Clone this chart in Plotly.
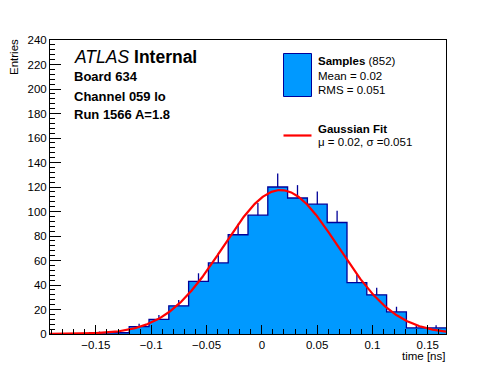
import numpy as np
import plotly.graph_objects as go

# ---- data ----
x_min = -0.1915
x_max = 0.1665
n_bins = 20
counts = [0, 0, 1, 1, 6, 12, 23, 43, 58, 81, 97, 120, 111, 106, 91, 42, 32, 18, 5, 5]
fit_mu = 0.017
fit_sigma = 0.052
fit_amp = 117.5
y_ticks = list(range(0, 241, 20))
x_ticks = [-0.15, -0.1, -0.05, 0, 0.05, 0.1, 0.15]
x_tick_text = ["\u22120.15", "\u22120.1", "\u22120.05", "0", "0.05", "0.1", "0.15"]

FONT = "Liberation Sans, Arial, Helvetica, sans-serif"
FILL = "#0099ff"
EDGE = "#000099"

edges = np.linspace(x_min, x_max, n_bins + 1)
centers = (edges[:-1] + edges[1:]) / 2
cnt = np.array(counts, dtype=float)

fig = go.Figure()
# histogram body + outline
fig.add_trace(go.Scatter(
    x=list(edges), y=list(cnt) + [cnt[-1]],
    mode="lines", line=dict(shape="hv", color=EDGE, width=1.3),
    fill="tozeroy", fillcolor=FILL, hoverinfo="skip", showlegend=False))
# upper error bars
fig.add_trace(go.Scatter(
    x=list(centers), y=list(cnt), mode="markers",
    marker=dict(size=1, opacity=0),
    error_y=dict(type="data", symmetric=False, array=list(np.sqrt(cnt)),
                 arrayminus=[0] * n_bins, width=0, thickness=1.3, color=EDGE),
    showlegend=False))
# gaussian fit
xf = np.linspace(x_min, x_max, 500)
yf = fit_amp * np.exp(-0.5 * ((xf - fit_mu) / fit_sigma) ** 2)
fig.add_trace(go.Scatter(x=xf, y=yf, mode="lines",
                         line=dict(color="#ff0000", width=2.2), showlegend=False))

# page coordinates of the frame (page body has 8px margin)
OFF = 8
L, R, T, B = 50, 446, 40, 334
W, H = R - L, B - T

def px(x):
    return (x - L) / W

def py(y):
    return (B - y) / H

fig.update_layout(
    width=496 - OFF, height=372 - OFF,
    margin=dict(l=L - OFF, r=496 - R, t=T - OFF, b=372 - B, pad=0),
    paper_bgcolor="white", plot_bgcolor="white",
    font=dict(family=FONT, size=11, color="black"),
    xaxis=dict(range=[x_min, x_max], showgrid=False, zeroline=False,
               showline=True, linecolor="black", linewidth=1, mirror=True,
               ticks="inside", ticklen=9, tickcolor="black", tickwidth=1,
               tickvals=x_ticks, ticktext=x_tick_text,
               minor=dict(dtick=0.01, tick0=0, ticks="inside", ticklen=5, tickcolor="black", showgrid=False),
               tickfont=dict(size=11.5)),
    yaxis=dict(range=[0, 240], showgrid=False, zeroline=False,
               showline=True, linecolor="black", linewidth=1, mirror=True,
               ticks="inside", ticklen=11, tickcolor="black", tickwidth=1,
               tickvals=y_ticks,
               minor=dict(dtick=4, tick0=0, ticks="inside", ticklen=5, tickcolor="black", showgrid=False),
               tickfont=dict(size=11.5)),
)

ann = []
def text(x, y, s, size=11, xanchor="left", yanchor="middle", angle=0):
    ann.append(dict(x=px(x), y=py(y), xref="paper", yref="paper", text=s, showarrow=False,
                    xanchor=xanchor, yanchor=yanchor, textangle=angle,
                    font=dict(family=FONT, size=size, color="black")))

text(14, 37, "Entries", size=11.5, xanchor="center", yanchor="top", angle=-90)
text(447, 356, "time [ns]", size=11.5, xanchor="right")
text(72, 57, "<i>ATLAS</i> <b>Internal</b>", size=17.5)
text(72, 76, "<b>Board 634</b>", size=13)
text(72, 96, "<b>Channel 059 lo</b>", size=13)
text(72, 115, "<b>Run 1566 A=1.8</b>", size=13)
text(316, 61, "<b>Samples</b> (852)", size=11.5)
text(316, 76, "Mean = 0.02", size=11.5)
text(316, 90, "RMS = 0.051", size=11.5)
text(316, 129, "<b>Gaussian Fit</b>", size=11.5)
text(316, 142, "\u03bc = 0.02, \u03c3 =0.051", size=11.5)
fig.update_layout(annotations=ann)

fig.update_layout(shapes=[
    dict(type="rect", xref="paper", yref="paper", x0=px(283.5), x1=px(311.5), y0=py(96.5), y1=py(53.5),
         fillcolor=FILL, line=dict(color=EDGE, width=1)),
    dict(type="line", xref="paper", yref="paper", x0=px(283.5), x1=px(311.5), y0=py(135.5), y1=py(135.5),
         line=dict(color="#ff0000", width=2.2)),
])

fig.write_html("out.html")
